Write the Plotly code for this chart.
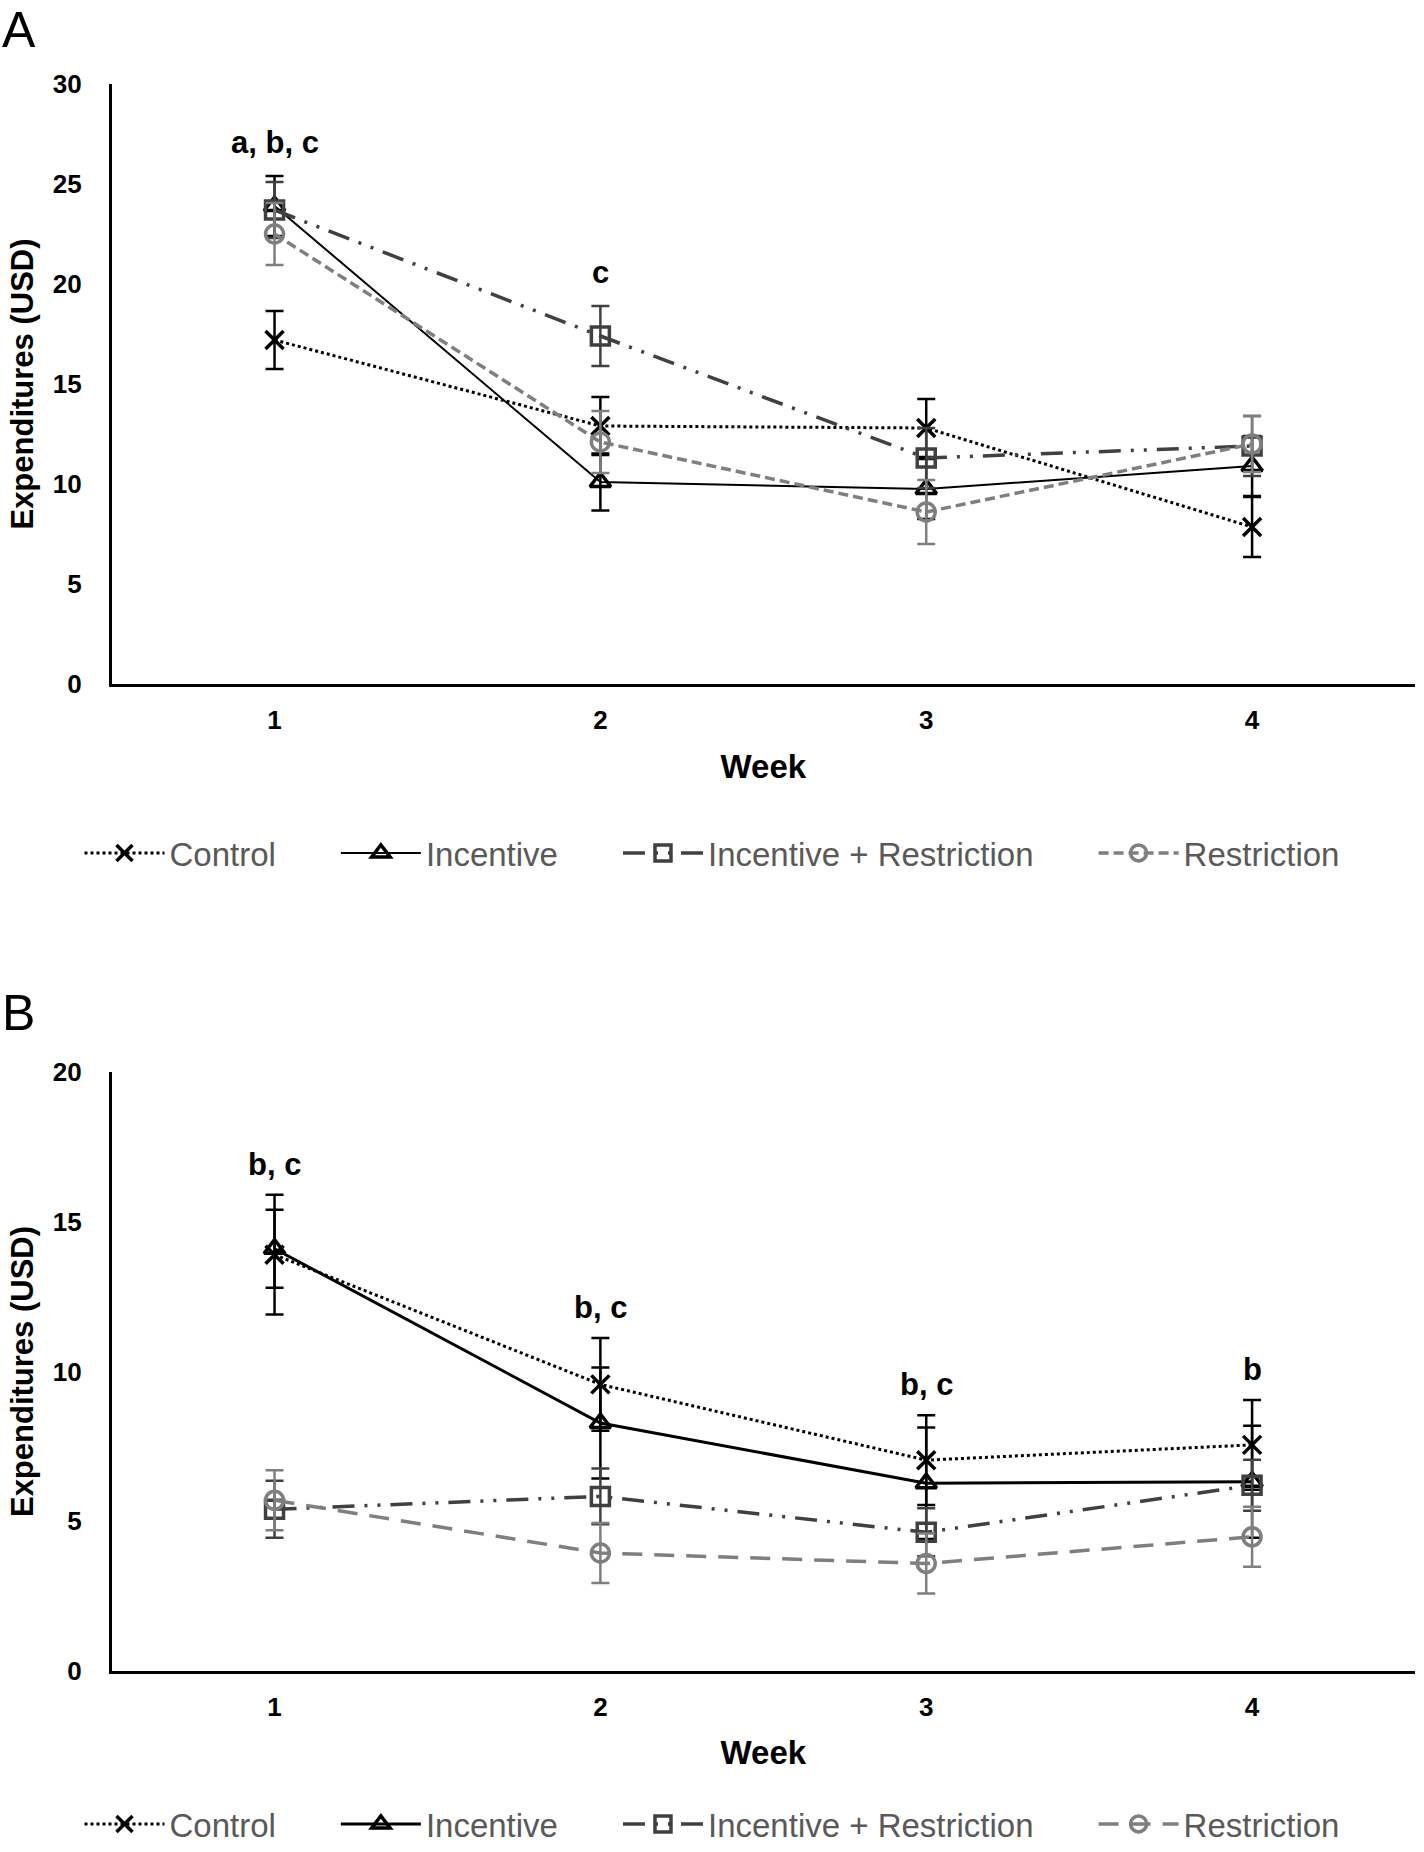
import plotly.graph_objects as go

weeks = [1, 2, 3, 4]
groups = ["Control", "Incentive", "Incentive + Restriction", "Restriction"]

# Panel A - expenditures (USD), mean and SE per week
a_control = [17.2, 12.9, 12.8, 7.85]
a_control_se = [1.45, 1.45, 1.45, 1.5]
a_incentive = [23.9, 10.1, 9.75, 10.9]
a_incentive_se = [1.5, 1.42, 1.5, 1.5]
a_inc_restr = [23.7, 17.4, 11.3, 11.9]
a_inc_restr_se = [1.4, 1.5, 1.5, 1.5]
a_restriction = [22.5, 12.1, 8.6, 12.0]
a_restriction_se = [1.55, 1.55, 1.6, 1.4]
a_letters = ["a, b, c", "c", "", ""]

# Panel B
b_control = [13.9, 9.57, 7.04, 7.55]
b_control_se = [2.0, 1.55, 1.5, 1.5]
b_incentive = [14.1, 8.28, 6.27, 6.32]
b_incentive_se = [1.3, 1.85, 1.86, 1.87]
b_inc_restr = [5.4, 5.83, 4.63, 6.2]
b_inc_restr_se = [0.95, 0.93, 0.8, 0.85]
b_restriction = [5.7, 3.94, 3.59, 4.48]
b_restriction_se = [1.0, 1.0, 1.0, 1.0]
b_letters = ["b, c", "b, c", "b, c", "b"]

FONT = "Liberation Sans, Arial, sans-serif"
W, H = 1424, 1852

styles = {
    "Control": dict(color="#000000", dash="dot", width=3, symbol="x-thin-open"),
    "Incentive": dict(color="#000000", dash="solid", width=2, symbol="triangle-up-open"),
    "Incentive + Restriction": dict(color="#404040", dash="22px,10px,3px,10px,3px,10px", width=3.5, symbol="square-open"),
    "Restriction": dict(color="#7f7f7f", dash="10px,5px", width=3.5, symbol="circle-open"),
}

panels = [
    ("x", "y", "legend", [a_control, a_incentive, a_inc_restr, a_restriction],
     [a_control_se, a_incentive_se, a_inc_restr_se, a_restriction_se], a_letters, 14),
    ("x2", "y2", "legend2", [b_control, b_incentive, b_inc_restr, b_restriction],
     [b_control_se, b_incentive_se, b_inc_restr_se, b_restriction_se], b_letters, 11),
]

fig = go.Figure()

pad = "\u00a0" * 6
for p, (xa, ya, leg, series, errs, letters, shift) in enumerate(panels):
    for k, (name, vals, se) in enumerate(zip(groups, series, errs)):
        st = styles[name]
        dash = st["dash"]
        width = st["width"]
        if p == 1 and name == "Restriction":
            dash = "20px,12px"
        if p == 1 and name == "Incentive":
            width = 3
        label = name + (pad if k < len(groups) - 1 else "")
        fig.add_trace(go.Scatter(
            x=weeks, y=vals, name=label, mode="lines+markers",
            xaxis=xa, yaxis=ya, legend=leg,
            line=dict(color=st["color"], dash=dash, width=width),
            marker=dict(symbol=st["symbol"], size=18,
                        color=st["color"], line=dict(color=st["color"], width=3.5)),
            error_y=dict(type="data", array=se, visible=True,
                         color=st["color"], thickness=2.5, width=9),
        ))
    # significance letters, placed above the highest error cap
    for i, txt in enumerate(letters):
        if not txt:
            continue
        top = max(s[i] + e[i] for s, e in zip(series, errs))
        fig.add_annotation(x=weeks[i], y=top, xref=xa, yref=ya, text="<b>" + txt + "</b>",
                           showarrow=False, yanchor="bottom", yshift=shift,
                           font=dict(family=FONT, size=31, color="#000000"))

axis_common = dict(
    showline=True, linecolor="#000000", linewidth=2.5, showgrid=False,
    zeroline=False, ticks="", automargin=False,
    tickfont=dict(family=FONT, size=26, color="#000000", weight="bold"),
)
xfont = dict(family=FONT, size=33, color="#000000", weight="bold")
yfont = dict(family=FONT, size=31, color="#000000", weight="bold")
xdom = [111.6 / W, 1415 / W]

fig.update_layout(
    width=W, height=H, template="none",
    margin=dict(l=0, r=0, t=0, b=0),
    paper_bgcolor="white", plot_bgcolor="white",
    showlegend=True,
    xaxis=dict(domain=xdom, anchor="y", range=[0.5, 4.5], tickvals=weeks,
               ticklabelstandoff=11,
               title=dict(text="Week", standoff=21, font=xfont),
               **axis_common),
    yaxis=dict(domain=[1 - 684 / H, 1 - 84 / H], anchor="x", range=[0, 30], dtick=5,
               ticklabelstandoff=22,
               title=dict(text="Expenditures (USD)", standoff=10, font=yfont),
               **axis_common),
    xaxis2=dict(domain=xdom, anchor="y2", range=[0.5, 4.5], tickvals=weeks,
                ticklabelstandoff=11,
                title=dict(text="Week", standoff=20, font=xfont),
                **axis_common),
    yaxis2=dict(domain=[1 - 1671 / H, 1 - 1072 / H], anchor="x2", range=[0, 20], dtick=5,
                ticklabelstandoff=22,
                title=dict(text="Expenditures (USD)", standoff=10, font=yfont),
                **axis_common),
    legend=dict(orientation="h", x=0.5, xanchor="center", y=1 - 853 / H, yanchor="middle",
                itemwidth=80, font=dict(family=FONT, size=33, color="#595959"),
                bgcolor="rgba(0,0,0,0)"),
    # kept inside the page so it does not push the bottom margin
    legend2=dict(orientation="h", x=0.5, xanchor="center", y=0, yanchor="bottom",
                 itemwidth=80, font=dict(family=FONT, size=33, color="#595959"),
                 bgcolor="rgba(0,0,0,0)"),
)

fig.add_annotation(x=0, y=1, xref="paper", yref="paper", text="A",
                   showarrow=False, xanchor="left", yanchor="top",
                   font=dict(family=FONT, size=50, color="#000000"))
fig.add_annotation(x=0, y=1 - 1013 / H, xref="paper", yref="paper", text="B",
                   showarrow=False, xanchor="left", yanchor="middle",
                   font=dict(family=FONT, size=50, color="#000000"))

fig.write_html(
    "out.html",
    config={"displayModeBar": False},
    post_script="document.body.style.margin='0';"
                "document.documentElement.style.overflow='hidden';"
                "document.body.style.overflow='hidden';",
)
